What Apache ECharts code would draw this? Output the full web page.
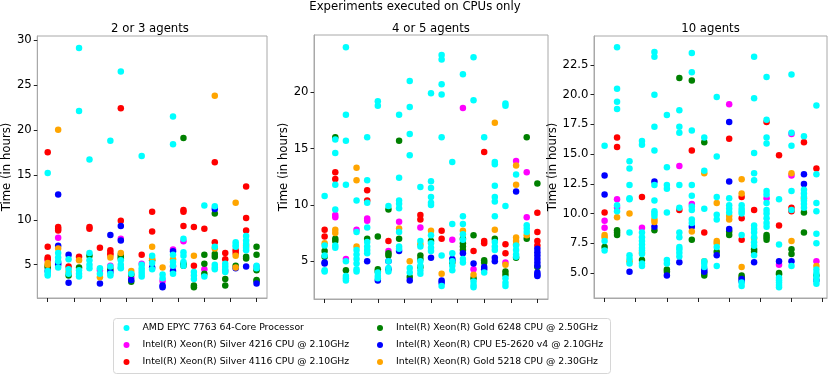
<!DOCTYPE html>
<html>
<head>
<meta charset="utf-8">
<script src="https://cdn.jsdelivr.net/npm/echarts@6/dist/echarts.min.js"></script>
<style>html,body{margin:0;padding:0;background:#fff}#c{width:830px;height:376px}</style>
</head>
<body>
<div id="c"></div>
<script>
// ---- names / labels ----
const cpuNames = [
  'AMD EPYC 7763 64-Core Processor',
  'Intel(R) Xeon(R) Silver 4216 CPU @ 2.10GHz',
  'Intel(R) Xeon(R) Silver 4116 CPU @ 2.10GHz',
  'Intel(R) Xeon(R) Gold 6248 CPU @ 2.50GHz',
  'Intel(R) Xeon(R) CPU E5-2620 v4 @ 2.10GHz',
  'Intel(R) Xeon(R) Gold 5218 CPU @ 2.30GHz'
];
const panelTitles = ['2 or 3 agents', '4 or 5 agents', '10 agents'];
const mainTitle = 'Experiments executed on CPUs only';
const yLabel = 'Time (in hours)';
const xTicks1 = [0, 2.5, 5, 7.5, 10, 12.5, 15, 17.5, 20];
const xTicks2 = [0, 2.5, 5, 7.5, 10, 12.5, 15, 17.5, 20];
const xTicks3 = [0, 2.5, 5, 7.5, 10, 12.5, 15, 17.5];
const yTicks1 = [5, 10, 15, 20, 25, 30];
const yTicks2 = [5, 10, 15, 20];
const yTicks3 = [5, 7.5, 10, 12.5, 15, 17.5, 20, 22.5];

// ---- panel 1 : 2 or 3 agents (one entry per experiment column) ----
const amd1 = [[15.2,4.3,4.0,3.8],[6.3,5.8,5.4,4.7],[5.6,4.5,4.0],[29.1,22.1,4.4,4.0,3.7],[16.7,6.3,5.5,5.0,4.6],[4.6,4.0],[18.8,4.8,4.0,3.8],[26.5,5.5,5.0,4.7,4.6],[4.0],[17.1,5.0,4.6,4.3,4.0,3.7],[6.0,5.2,4.5],[3.9,3.5],[21.5,18.4,6.1,5.3,4.9,4.0],[7.9,6.4,6.0,5.3,4.9],[4.2,3.8,3.4],[11.6,3.7],[11.5,7.0,5.0,4.7,4.5],[5.1,4.8,4.5,4.2],[7.5,7.2,7.0],[8.2,7.7,7.3,6.9,6.6],[4.9,4.6]];
const s4216_1 = [[5.5],[8.0],[],[],[],[4.4],[4.9],[7.9],[3.6],[5.1],[],[3.2],[6.7,4.8],[7.6],[],[4.5],[],[4.3],[],[],[4.8]];
const s4116_1 = [[17.5,7.0,5.8,5.6],[9.2,9.0,8.8],[4.8],[5.9],[9.2,9.0],[6.9],[6.6,6.3,6.1],[22.4,9.9],[],[6.1],[10.9,8.7],[],[],[11.1,10.9,9.3],[9.2,4.9],[9.0],[16.4,7.5],[6.3,5.6],[6.6,6.3],[13.7,10.2,8.8],[]];
const g6248_1 = [[4.9,4.7],[],[3.8],[4.7],[6.0],[],[4.5],[6.1,5.9,5.7],[3.9,3.1],[],[5.5],[],[],[19.1,5.1,4.9],[2.7,2.5],[6.1,5.1,4.0],[10.7,6.2,5.9],[3.4,2.7],[4.9],[5.9,5.7],[7.0,6.1,4.4,3.3,3.2]];
const e5_1 = [[4.3],[12.8,7.1,5.2,5.0],[6.1,3.0],[],[],[2.9],[8.3,4.2],[9.3,7.7],[3.3],[],[4.7],[2.7,2.5],[6.5,4.3],[],[],[],[11.2],[],[4.6],[4.8],[2.9]];
const g5218_1 = [[5.2,5.0],[20.0,6.8],[4.2],[5.5],[],[3.6],[5.8],[6.3],[4.3],[],[7.0,5.7],[4.7],[5.6],[],[6.0],[],[23.8,6.8],[],[11.9,6.0,4.7],[7.1],[]];

// ---- panel 2 : 4 or 5 agents ----
const amd2 = [[10.8,6.4,5.5,4.2,4.1],[15.8,14.6,11.8,9.6,6.4,6.2],[24.0,18.0,15.7,11.8,5.0,3.7,3.5,3.3],[10.4,7.6,6.0,5.6,5.2,4.8,4.3,4.1],[16.0,12.2,10.2,8.0,6.7,6.3,6.0,5.7],[19.2,18.8,4.0,3.7,3.5],[9.9,5.0,4.4,4.1],[18.0,12.4,10.4,10.1,9.7,7.6,6.3,6.1],[21.0,18.7,16.3,14.4,4.4,4.0],[11.6,6.8,6.3,5.0,4.6,4.2,3.9],[19.9,12.1,11.5,10.7,10.2,10.0,7.3,6.6,6.2,5.9],[23.3,22.9,20.7,19.8,16.0,5.5,2.8],[13.8,8.3,5.7,5.0,4.6,4.2],[21.6,9.0,8.3,7.4,6.9,5.2,4.9],[23.1,19.3,3.2,2.9,2.7],[16.0,4.0],[13.8,13.6,11.7,10.7,10.3,9.0,6.7,6.3,6.0],[19.0,18.8,9.9,3.5,3.1,2.8],[12.7,6.4,6.0,5.6,5.4],[8.2,7.9,7.6],[]];
const s4216_2 = [[],[9.1,8.9],[5.2],[7.8],[8.8,8.6],[],[5.9],[8.5],[],[8.0],[],[],[6.9],[18.6],[4.3],[],[],[4.9],[13.9],[12.9,8.9],[]];
const s4116_2 = [[7.8,7.2],[12.9,12.3],[],[],[11.3,10.4],[],[6.8],[],[],[9.1,8.7],[],[7.7,7.0],[],[],[5.9],[14.7,6.8,6.6],[],[6.5,5.7],[],[],[9.3,7.6,6.8,6.4]];
const g6248_2 = [[5.9,5.4],[16.0,7.0,6.8],[4.2],[],[7.0],[7.2,4.3,4.1],[9.6,5.7,5.5],[15.7,7.0],[3.6],[5.5,5.2,4.5],[6.8],[],[4.9],[7.0,6.6,6.3,6.0],[7.3,3.5],[5.1,4.9],[7.0],[4.1,3.8],[5.3],[16.0,7.0],[11.9,4.5]];
const e5_2 = [[4.9,4.8],[],[],[],[5.0],[3.3],[5.0,4.3],[5.9],[3.3],[],[5.3],[3.3,3.1],[5.2,5.1],[5.7],[4.8],[4.5,4.3],[5.3,5.0],[],[11.2],[],[6.1,5.8,5.5,5.2,4.9,4.6,4.0,3.8,3.7]];
const g5218_2 = [[6.6],[7.8,7.5],[],[13.3,12.2,6.3],[],[],[],[7.9],[5.0],[6.5],[7.7],[3.9],[],[7.7],[3.8],[],[17.3,7.8],[4.7],[13.5,11.8,7.1,6.8,6.5],[7.3],[]];

// ---- panel 3 : 10 agents ----
const amd3 = [[15.7,7.7,6.9],[24.0,20.5,19.4,18.8,10.7,10.2],[14.4,13.8,12.4,11.3,11.2,8.4,6.5,6.2,5.8],[16.1,15.8,8.4,8.0,7.7,7.4,7.1,6.9,6.6,5.8,5.6],[23.6,23.2,20.0,17.3,15.3,12.4,11.1,10.2,10.0,9.8],[18.3,13.9,12.4,12.1,10.1,6.1,5.8],[18.7,17.3,16.8,12.4,10.5,8.4,8.0,7.2,7.0,6.7,6.4],[23.5,21.9,17.0,12.4,11.5,10.6,10.3,9.5,9.2],[16.4,13.6,10.4,6.0,5.8,5.5],[19.8,14.8,11.4,9.9,9.5,7.2,5.6],[11.3,10.7,10.4,10.1],[10.7,10.4,10.2,10.0,8.2,4.2,3.9],[23.2,19.7,15.1,13.4,12.8,9.0,8.7,8.4,8.0,7.6,7.3,6.5],[21.5,17.9,16.4,15.9,11.9,11.6,10.9,10.3,10.0,9.6,9.2,8.9],[11.2,7.4,4.6,4.4,4.2,4.0,3.8],[21.7,16.8,15.7,11.9,10.3,5.6],[16.5,12.0,11.7,11.4,11.1,10.8,10.5],[19.1,13.3,10.9,10.2,8.3,7.5,5.3,5.0,4.7,4.4,4.1]];
const s4216_3 = [[9.4,8.8],[11.2,10.5],[],[8.8],[],[],[14.0],[10.8],[],[],[19.2],[],[],[11.3],[5.7],[16.7,13.2],[],[6.0]];
const s4116_3 = [[10.1],[16.4,15.6],[],[11.4],[],[],[10.3],[15.3],[8.4],[],[16.3],[11.4,9.6,7.8],[10.3],[17.7],[14.9,9.0],[10.5,10.2],[16.0],[13.8]];
const g6248_3 = [[7.2],[8.6,8.4,8.2],[],[6.1],[8.6],[5.3,5.1],[21.4],[21.2,7.8],[16.0,5.0,4.8],[6.8],[8.5,8.2],[4.8,4.6],[7.0,6.8],[8.2,8.0,7.8],[5.0,4.9],[7.0,6.6],[10.1,8.4],[4.8]];
const e5_3 = [[13.2,11.6],[],[5.1],[],[12.7,8.9],[4.8],[5.9],[8.9],[5.3,5.1],[6.5],[17.7,12.7,8.7],[4.5,4.3],[5.9],[],[6.0],[6.0],[13.3,12.5],[4.4]];
const g5218_3 = [[8.2,8.0],[9.7],[10.0,6.0],[6.7],[9.5,9.3],[],[],[8.5],[13.4,6.0],[10.9,7.7,7.5],[9.8,9.5],[12.9,11.7,5.5],[7.9],[],[],[13.4,7.7],[11.3],[5.6]];

// ---- styling ----
const colors = ['#00ffff', '#ff00ff', '#ff0000', '#008000', '#0000ff', '#ffa500'];
const FONT = 'DejaVu Sans';
const FS = 11.7;
const SPINE = '#a8a8a8';

const panels = [
  {sets: [amd1, s4216_1, s4116_1, g6248_1, e5_1, g5218_1], xTicks: xTicks1, yTicks: yTicks1, xmin: -1, xmax: 21, ymin: 1.3, ymax: 30.44, dec: 0,
   grid: {left: 33, top: 36, width: 234, height: 262}, nameGap: 19},
  {sets: [amd2, s4216_2, s4116_2, g6248_2, e5_2, g5218_2], xTicks: xTicks2, yTicks: yTicks2, xmin: -1, xmax: 21, ymin: 1.65, ymax: 25.08, dec: 0,
   grid: {left: 314, top: 35, width: 234, height: 264}, nameGap: 20.5},
  {sets: [amd3, s4216_3, s4116_3, g6248_3, e5_3, g5218_3], xTicks: xTicks3, yTicks: yTicks3, xmin: -0.85, xmax: 17.85, ymin: 2.9, ymax: 24.94, dec: 1,
   grid: {left: 594, top: 36, width: 233, height: 262}, nameGap: 30}
];

function pts(cols) {
  const out = [];
  cols.forEach((vals, i) => vals.forEach(v => out.push([i, v])));
  return out;
}

const grids = [], xAxes = [], yAxes = [], series = [], titles = [];
titles.push({text: mainTitle, left: 415, top: 1, textAlign: 'center', padding: 0,
  textStyle: {fontFamily: FONT, fontSize: FS, fontWeight: 'normal', color: '#000'}});
const drawOrder = [1, 2, 3, 4, 5, 0];
panels.forEach((p, k) => {
  grids.push(Object.assign({show: true, borderColor: SPINE, borderWidth: 1, backgroundColor: 'transparent'}, p.grid));
  titles.push({text: panelTitles[k], left: p.grid.left + p.grid.width / 2, top: 23, textAlign: 'center', padding: 0,
    textStyle: {fontFamily: FONT, fontSize: FS, fontWeight: 'normal', color: '#000'}});
  xAxes.push({type: 'value', gridIndex: k, min: p.xmin, max: p.xmax,
    axisLine: {show: true, onZero: false, lineStyle: {color: SPINE, width: 1}}, splitLine: {show: false},
    axisTick: {show: true, length: 4, customValues: p.xTicks, lineStyle: {color: '#222', width: 1}},
    axisLabel: {show: true, customValues: p.xTicks, formatter: () => '', fontSize: 1}});
  yAxes.push({type: 'value', gridIndex: k, min: p.ymin, max: p.ymax,
    name: yLabel, nameLocation: 'middle', nameGap: p.nameGap, nameRotate: 90,
    nameTextStyle: {fontFamily: FONT, fontSize: FS, color: '#000'},
    axisLine: {show: true, onZero: false, lineStyle: {color: SPINE, width: 1}}, splitLine: {show: false},
    axisTick: {show: true, length: 3.5, customValues: p.yTicks, lineStyle: {color: '#222', width: 1}},
    axisLabel: {show: true, customValues: p.yTicks, margin: 5.5, fontFamily: FONT, fontSize: FS, color: '#000',
      formatter: v => Number(v).toFixed(p.dec)}});
  drawOrder.forEach(s => {
    series.push({type: 'scatter', name: cpuNames[s], xAxisIndex: k, yAxisIndex: k,
      data: pts(p.sets[s]), symbol: 'circle', symbolSize: 6.5,
      itemStyle: {color: colors[s], opacity: 1}, silent: true, animation: false});
  });
});

const legendText = {fontFamily: FONT, fontSize: 9.3, color: '#000', lineHeight: 14};
const option = {
  backgroundColor: '#fff',
  animation: false,
  color: colors,
  title: titles,
  grid: grids,
  xAxis: xAxes,
  yAxis: yAxes,
  series: series,
  legend: [
    {orient: 'vertical', left: 123.5, top: 321, padding: 0, itemGap: 3, itemWidth: 22, itemHeight: 6, icon: 'circle',
     data: cpuNames.slice(0, 3), textStyle: legendText, selectedMode: false},
    {orient: 'vertical', left: 377, top: 321, padding: 0, itemGap: 3, itemWidth: 22, itemHeight: 6, icon: 'circle',
     data: cpuNames.slice(3, 6), textStyle: legendText, selectedMode: false}
  ],
  graphic: [{type: 'rect', left: 113, top: 318, shape: {width: 497, height: 55, r: 3},
    style: {fill: 'transparent', stroke: '#d6d6d6', lineWidth: 1}, silent: true, z: -1}]
};
const chart = echarts.init(document.getElementById('c'), null, {renderer: 'canvas'});
chart.setOption(option);
</script>
</body>
</html>
